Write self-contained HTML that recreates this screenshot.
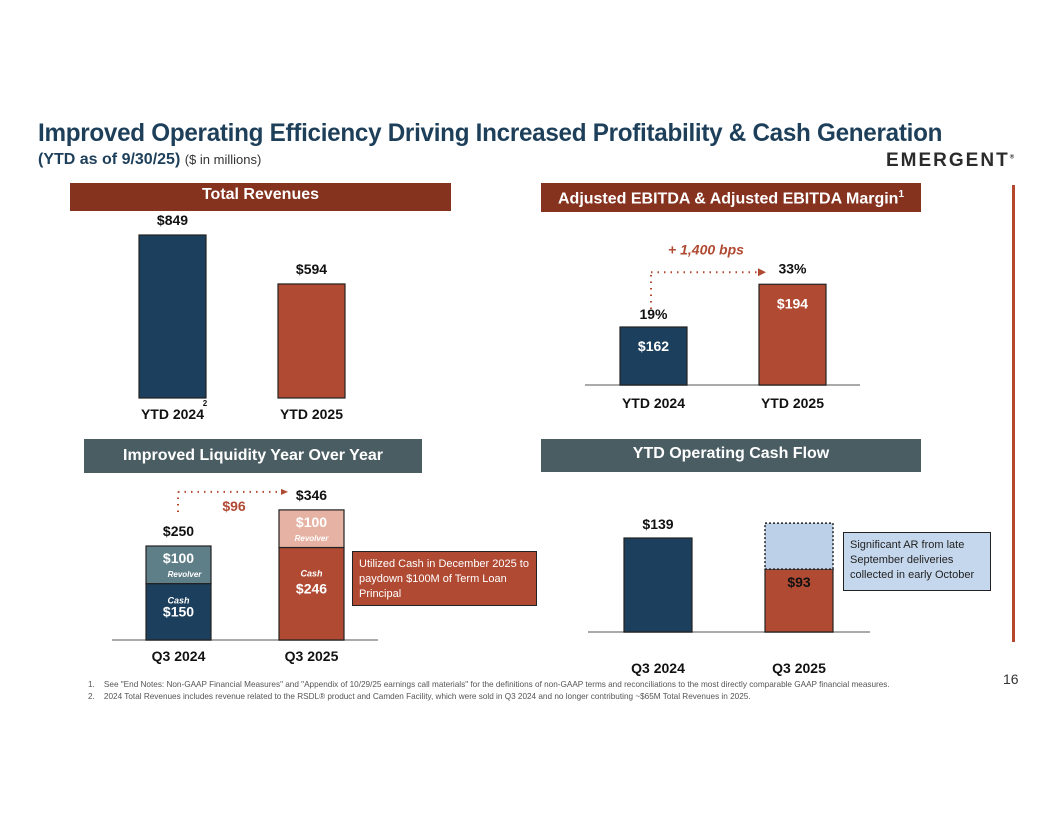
<!DOCTYPE html>
<html><head><meta charset="utf-8"><style>
body{margin:0;width:1056px;height:816px;background:#fff;font-family:"Liberation Sans",sans-serif;position:relative;overflow:hidden}
.a{position:absolute}
.hdr{position:absolute;color:#fff;font-weight:bold;font-size:16px;text-align:center}
</style></head><body>
<div class="a" style="left:38px;top:119px;font-size:25px;font-weight:bold;color:#1d3f5a;letter-spacing:-0.3px;transform:scaleX(0.97);transform-origin:left top;white-space:nowrap">Improved Operating Efficiency Driving Increased Profitability &amp; Cash Generation</div>
<div class="a" style="left:38px;top:151px;font-size:16px;font-weight:bold;color:#1d3f5a">(YTD as of 9/30/25) <span style="font-weight:normal;font-size:13px;color:#333">($ in millions)</span></div>
<div class="a" style="left:886px;top:150px;font-size:19px;font-weight:bold;color:#2b2b2b;letter-spacing:2px">EMERGENT<sup style="font-size:6px">®</sup></div>
<div class="a" style="left:1012px;top:185px;width:3px;height:457px;background:#b5472d"></div>

<div class="hdr" style="left:70px;top:183px;width:381px;height:28px;line-height:24px;background:#85321f">Total Revenues</div>
<div class="hdr" style="left:541px;top:183px;width:380px;height:29px;line-height:24px;background:#85321f">Adjusted EBITDA &amp; Adjusted EBITDA Margin<sup style="font-size:10px">1</sup></div>
<div class="hdr" style="left:84px;top:439px;width:338px;height:34px;line-height:34px;background:#4a5d63">Improved Liquidity Year Over Year</div>
<div class="hdr" style="left:541px;top:439px;width:380px;height:33px;line-height:30px;background:#4a5d63">YTD Operating Cash Flow</div>

<svg class="a" style="left:0;top:0" width="1056" height="816" id="chart"></svg>

<div class="a" style="left:352px;top:551px;width:171px;height:43px;padding:5px 6px;background:#b04a33;border:1.5px solid #222;color:#fff;font-size:11px;line-height:15px">Utilized Cash in December 2025 to paydown $100M of Term Loan Principal</div>
<div class="a" style="left:843px;top:532px;width:134px;height:47px;padding:5px 6px;background:#c5d7ec;border:1.5px solid #222;color:#222;font-size:11px;line-height:15px">Significant AR from late September deliveries collected in early October</div>

<div class="a" style="left:88px;top:679px;font-size:8.2px;color:#555;line-height:12px">
<div>1.&nbsp;&nbsp;&nbsp;&nbsp;See "End Notes: Non-GAAP Financial Measures" and "Appendix of 10/29/25 earnings call materials" for the definitions of non-GAAP terms and reconciliations to the most directly comparable GAAP financial measures.</div>
<div>2.&nbsp;&nbsp;&nbsp;&nbsp;2024 Total Revenues includes revenue related to the RSDL® product and Camden Facility, which were sold in Q3 2024 and no longer contributing ~$65M Total Revenues in 2025.</div></div>
<div class="a" style="left:1003px;top:671px;font-size:14px;color:#333">16</div>

<script>
const revCats=["YTD 2024","YTD 2025"];
const revVals=[849,594];
const ebitdaCats=["YTD 2024","YTD 2025"];
const ebitdaVals=[162,194];
const marginVals=[19,33];
const liqCats=["Q3 2024","Q3 2025"];
const liqCash=[150,246];
const liqRevolver=[100,100];
const ocfCats=["Q3 2024","Q3 2025"];
const ocfVals=[139,93];
const ocfAR=[0,68];

const svg=document.getElementById('chart');
const NS="http://www.w3.org/2000/svg";
function mk(t,at,txt){const e=document.createElementNS(NS,t);for(const k in at)e.setAttribute(k,at[k]);if(txt!==undefined)e.textContent=txt;svg.appendChild(e);return e;}
function rect(x,y,w,h,fill,name,extra){const r=mk('rect',Object.assign({x:x,y:y,width:w,height:h,fill:fill,stroke:'#222','stroke-width':1.2},extra||{}));

return r;}
function txt(x,y,s,name,o){o=o||{};const t=mk('text',{x:x,y:y,'text-anchor':'middle','font-size':o.fs||14,'font-weight':o.fw||'bold',fill:o.fill||'#111','font-style':o.it?'italic':'normal','font-family':'Liberation Sans, sans-serif'},s);

return t;}
function line(x1,y1,x2,y2,name,o){o=o||{};const l=mk('line',{x1:x1,y1:y1,x2:x2,y2:y2,stroke:o.c||'#aaa','stroke-width':o.w||2,'stroke-dasharray':o.d||''});

return l;}
const red='#b04a33',navy='#1b3f5c';

// Panel 1
{const base=398,k=163/849,xs=[139,278],w=67;
revVals.forEach((v,i)=>{const h=v*k;rect(xs[i],base-h,w,h,i?red:navy,'revenue-bar-'+i);
txt(xs[i]+w/2,base-h-10,'$'+v,'revenue-value-'+i);
txt(xs[i]+w/2,base+21,revCats[i],'revenue-x-label-'+i);});
txt(205,406,'2','footnote-2-marker',{fs:8});}

// Panel 2
{const base=385,k=58/19,xs=[620,759],w=67;
line(585,base,860,base,'ebitda-baseline');
const tops=[];
marginVals.forEach((m,i)=>{const h=m*k;tops.push(base-h);rect(xs[i],base-h,w,h,i?red:navy,'ebitda-bar-'+i);
txt(xs[i]+w/2,base-h+24,'$'+ebitdaVals[i],'ebitda-value-'+i,{fill:'#fff'});
txt(xs[i]+w/2,base-h-(i?11:8),m+'%','ebitda-margin-'+i);
txt(xs[i]+w/2,base+23,ebitdaCats[i],'ebitda-x-label-'+i);});
const ay=tops[1]-12;
line(651,tops[0]-18,651,ay,'margin-arrow-vertical',{c:red,d:'1.5 5'});
line(651,ay,758,ay,'margin-arrow-horizontal',{c:red,d:'1.5 5'});
mk('polygon',{points:`${758},${ay-4} ${766},${ay} ${758},${ay+4}`,fill:red});
txt(706,ay-18,'+ 1,400 bps','margin-change-label',{fill:red,it:true});}

// Panel 3
{const base=640,k=94/250,xs=[146,279],w=65;
line(112,base,378,base,'liquidity-baseline');
const tops=[];
liqCats.forEach((c,i)=>{const hc=liqCash[i]*k,hr=liqRevolver[i]*k;
rect(xs[i],base-hc,w,hc,i?red:navy,'liquidity-cash-bar-'+i);
rect(xs[i],base-hc-hr,w,hr,i?'#e6b2a3':'#5f7f88','liquidity-revolver-bar-'+i);
const top=base-hc-hr;tops.push(top);
const cx=xs[i]+w/2;
txt(cx,top-10,'$'+(liqCash[i]+liqRevolver[i]),'liquidity-total-'+i);
txt(cx,top+17,'$'+liqRevolver[i],'liquidity-revolver-value-'+i,{fill:'#fff'});
txt(cx+(i?0:6),top+31,'Revolver','liquidity-revolver-label-'+i,{fs:8,fill:'#fff',it:true});
txt(cx,base-hc+(i?29:20),'Cash','liquidity-cash-label-'+i,{fs:9,fill:'#fff',it:true});
txt(cx,base-hc+(i?46:33),'$'+liqCash[i],'liquidity-cash-value-'+i,{fill:'#fff'});
txt(cx,base+21,c,'liquidity-x-label-'+i);});
const ay=tops[1]-18;
line(178,tops[0]-34,178,ay,'liquidity-arrow-vertical',{c:red,d:'1.5 5'});
line(178,ay,281,ay,'liquidity-arrow-horizontal',{c:red,d:'1.5 5'});
mk('polygon',{points:`281,${ay-3} 288,${ay} 281,${ay+3}`,fill:red});
txt(234,ay+19,'$'+(liqCash[1]+liqRevolver[1]-liqCash[0]-liqRevolver[0]),'liquidity-change-label',{fill:red});}

// Panel 4
{const base=632,k=94/139,xs=[624,765],w=68;
line(588,base,870,base,'ocf-baseline');
ocfVals.forEach((v,i)=>{const h=v*k;rect(xs[i],base-h,w,h,i?red:navy,'ocf-bar-'+i);
if(ocfAR[i]>0){const ha=ocfAR[i]*k;rect(xs[i],base-h-ha,w,ha,'#bcd0e8','ocf-ar-bar-'+i,{'stroke-dasharray':'2 2','stroke-width':1.5});
txt(xs[i]+w/2,base-h+18,'$'+v,'ocf-value-'+i);}
else txt(xs[i]+w/2,base-h-9,'$'+v,'ocf-value-'+i);
txt(xs[i]+w/2,base+41,ocfCats[i],'ocf-x-label-'+i);});}
</script>
</body></html>
